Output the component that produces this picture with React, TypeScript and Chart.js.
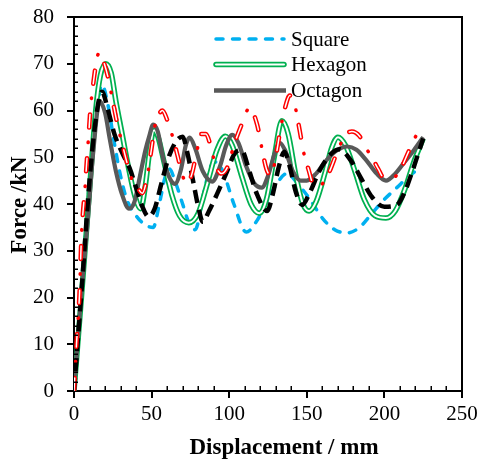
import React, { useEffect, useRef } from 'react';
import { Chart, registerables } from 'chart.js';

Chart.register(...registerables);

// ---- data (Displacement mm, Force kN) ----
const squareX = [0,5,10,14,18,22,26,30,34,40,46,51,55,58.5,61.5,65,70,74,78,84,88,92,97,103,111,118,125,131,137,145,152,160,168,176,184,192,200,208,216,224];
const squareY = [0,22,45,58,65.5,61,53,46,41,37.5,35.5,35,40,45.5,47.5,45,40,36,34.5,43,48,49,46,40,34,36.5,41,44.5,46.5,44,41,37,34.5,33.8,35,38,41,43.5,46,48];

const hexagonX = [0,5,10,14,17,20.5,24,27,31,35,39,43,46,49,51.5,54,58,63,68,74,80,86,92,97.5,102,108,114,119.5,124,129,134,138,143,147.5,151.5,156,162,166,170,175,181,187,194,201,207,213,219,225];
const hexagonY = [0,21,43,60,67.5,70,68,62,55,48,42,39,44,52,55.8,54.5,49,42,37.5,36,38,44.5,51.5,54.5,52.5,46,40,38,41,50,57.8,55,46,40,38.5,40.5,47,52,54.3,52.5,47,41,37.5,37,38.5,43,49,54];

const octagonX = [0,5,8.5,12.5,16.5,20,23,27,31,35.5,39,42.5,46,48.5,51,54,57,61,65,69,72,74.5,78,83,89,94,98,102,106,111,116,121,125,129,132.5,136,141,146,150,156,163,170,176,182,188,195,201,207,213,219,225];
const octagonY = [0,22,35,51.5,62,59.5,54,47,42,39,40.5,46,51.5,54.5,57,55.5,50.5,46,44.3,47.5,52.5,54.2,52,47,44.8,48,52.5,54.8,53,48,44.5,43.5,46,50.5,53.1,51.5,47,45,45,46.5,49.5,51.6,52.3,51.6,49.5,46.5,45,46.5,49,51.5,54.3];

const blackX = [0,5,10,14,18,22,26,31,36,40,44,48,52,56,61,66,70,73,77,80,83,87,92,98,104,108,113,118,124.5,128,132,135.5,139,143,147,152,158,165,171,178,185,192,200,208,213,218,222,225];
const blackY = [0,22,45,58,64,60,55,51,47.5,43.5,39.5,37.3,39,44,50,53.5,54.4,51,44.5,39.5,36.2,38.5,42,46.5,51,51.5,47,42,38.5,42,48,51.2,48,42.5,39.8,42.5,47,50.5,51.7,49.5,45.5,41.5,39.4,39.8,42.5,47,51,54];

const redX = [0,1.6,3.5,4.8,5.5,7,8,9.5,10.5,12.5,15,16.5,19,22,25,28,31,34,37,41,44,47,50,52,54.5,57,60,63,67,70,73,76,79,82,85,88,91,95,99,103,108,113,118,121,124,127,130,133,136,139,142,145,148,151,155,159,164,170,175,179,184,188,192,196,200,205,210,216,222,224];
const redY = [0,10,20.5,33,37,43,48,55,60,66,71.5,72.3,70.5,67,62,57,53,49,45.5,43.5,42.3,45.5,52,56.5,59,60,58,55,50,46,44.5,46.5,51,55,55,52.5,48.5,46.5,48,52.5,57,60.5,57,52,47.5,46,50,56,60.6,63.2,61.5,56.5,51,47.5,43.7,44,46.5,51.5,54.8,55.5,54.5,52,50,47.5,45.5,45.5,47.2,51.5,55.5,56];

const legendLabels = ['Square', 'Hexagon', 'Octagon'];
const xMin = 0, xMax = 250, xStep = 50, xMinorStep = 10;
const yMin = 0, yMax = 80, yStep = 10, yMinorStep = 2;
const xTitle = 'Displacement / mm';
const yTitle = 'Force /kN';

const BLUE = '#00B0F0';
const GREEN = '#00B050';
const GRAY = '#595959';
const RED = '#FF0000';
const FONT = "'Liberation Serif', 'Times New Roman', serif";

const pts = (xs: number[], ys: number[]) => xs.map((x, i) => ({ x, y: ys[i] }));

export default function App() {
  const ref = useRef<HTMLCanvasElement>(null);

  useEffect(() => {
    const canvas = ref.current;
    if (!canvas) return;

    const decor = {
      id: 'decor',
      afterDraw(chart: any) {
        const { ctx, chartArea: a, scales } = chart;
        const xs = scales.x, ys = scales.y;
        ctx.save();
        ctx.strokeStyle = '#000';
        ctx.setLineDash([]);
        // minor ticks (inside)
        ctx.lineWidth = 1.5;
        for (let v = xMin + xMinorStep; v < xMax; v += xMinorStep) {
          if (v % xStep === 0) continue;
          const px = Math.round(xs.getPixelForValue(v)) + 0.25;
          ctx.beginPath();
          ctx.moveTo(px, a.bottom);
          ctx.lineTo(px, a.bottom - 5);
          ctx.stroke();
        }
        for (let v = yMin + yMinorStep; v < yMax; v += yMinorStep) {
          if (v % yStep === 0) continue;
          const py = Math.round(ys.getPixelForValue(v)) + 0.25;
          ctx.beginPath();
          ctx.moveTo(a.left, py);
          ctx.lineTo(a.left + 4, py);
          ctx.stroke();
        }
        // top & right frame
        ctx.lineWidth = 2;
        ctx.beginPath();
        ctx.moveTo(a.left - 1, a.top);
        ctx.lineTo(a.right, a.top);
        ctx.lineTo(a.right, a.bottom + 1);
        ctx.stroke();

        // legend
        const lx0 = a.left + 140, lx1 = a.left + 210, tx = a.left + 217;
        const rows = [a.top + 22, a.top + 47.5, a.top + 73.5];
        ctx.lineCap = 'round';
        ctx.strokeStyle = BLUE; ctx.lineWidth = 3.5; ctx.setLineDash([7, 9.5]);
        ctx.beginPath(); ctx.moveTo(lx0 + 2, rows[0]); ctx.lineTo(lx1, rows[0]); ctx.stroke();
        ctx.setLineDash([]);
        ctx.strokeStyle = GREEN; ctx.lineWidth = 5.5;
        ctx.beginPath(); ctx.moveTo(lx0 + 2, rows[1]); ctx.lineTo(lx1, rows[1]); ctx.stroke();
        ctx.strokeStyle = '#fff'; ctx.lineWidth = 2;
        ctx.beginPath(); ctx.moveTo(lx0 + 2, rows[1]); ctx.lineTo(lx1, rows[1]); ctx.stroke();
        ctx.lineCap = 'butt';
        ctx.strokeStyle = GRAY; ctx.lineWidth = 4.5;
        ctx.beginPath(); ctx.moveTo(lx0, rows[2]); ctx.lineTo(lx1 + 2, rows[2]); ctx.stroke();

        ctx.fillStyle = '#000';
        ctx.font = `21px ${FONT}`;
        ctx.textAlign = 'left';
        ctx.textBaseline = 'middle';
        legendLabels.forEach((t, i) => ctx.fillText(t, tx, rows[i] + 1));

        // axis titles
        ctx.font = `bold 23px ${FONT}`;
        ctx.textAlign = 'center';
        ctx.textBaseline = 'middle';
        ctx.fillText(xTitle, (a.left + a.right) / 2 + 16, 448);
        ctx.save();
        ctx.translate(20, (a.top + a.bottom) / 2 + 1);
        ctx.rotate(-Math.PI / 2);
        ctx.fillText(yTitle, 0, 0);
        ctx.restore();
        ctx.restore();
      },
    };

    const base = {
      pointRadius: 0,
      pointHoverRadius: 0,
      fill: false,
      cubicInterpolationMode: 'monotone' as const,
    };

    const chart = new Chart(canvas, {
      type: 'line',
      data: {
        datasets: [
          { ...base, label: 'Square', data: pts(squareX, squareY), borderColor: BLUE, borderWidth: 3.5, borderDash: [7, 9.5], borderCapStyle: 'round', order: 7 },
          { ...base, label: 'Hexagon', data: pts(hexagonX, hexagonY), borderColor: GREEN, borderWidth: 5.5, order: 6 },
          { ...base, label: 'Hexagon inner', data: pts(hexagonX, hexagonY), borderColor: '#ffffff', borderWidth: 2, order: 5 },
          { ...base, label: 'Octagon', data: pts(octagonX, octagonY), borderColor: GRAY, borderWidth: 4.2, order: 4 },
          { ...base, label: 'Series 4', data: pts(blackX, blackY), borderColor: '#000000', borderWidth: 4.5, borderDash: [13, 7], order: 3 },
          { ...base, label: 'Series 5', data: pts(redX, redY), borderColor: RED, borderWidth: 4.5, borderDash: [13, 31], borderCapStyle: 'round', order: 2 },
          { ...base, label: 'Series 5 inner', data: pts(redX, redY), borderColor: '#ffffff', borderWidth: 1.5, borderDash: [13, 31], borderCapStyle: 'round', order: 1 },
          { ...base, label: 'Series 5 dots', data: pts(redX, redY), borderColor: RED, borderWidth: 3.5, borderDash: [0.5, 43.5], borderDashOffset: 15, borderCapStyle: 'round', order: 0 },
        ],
      },
      options: {
        responsive: false,
        animation: false,
        events: [],
        layout: { padding: { left: 0, top: 17, right: 20, bottom: 0 } },
        plugins: { legend: { display: false }, tooltip: { enabled: false } },
        scales: {
          x: {
            type: 'linear',
            min: xMin,
            max: xMax,
            afterFit: (s: any) => { s.height = 71; s.paddingLeft = 0; s.paddingRight = 0; s.paddingTop = 0; s.paddingBottom = 0; },
            ticks: { stepSize: xStep, color: '#000', font: { family: FONT, size: 21 }, padding: 4, maxRotation: 0, autoSkip: false },
            grid: { display: true, drawOnChartArea: false, drawTicks: true, tickLength: 7, lineWidth: 2, color: '#000' },
            border: { display: true, color: '#000', width: 2 },
            title: { display: false },
          },
          y: {
            type: 'linear',
            min: yMin,
            max: yMax,
            afterFit: (s: any) => { s.width = 74; s.paddingTop = 0; s.paddingBottom = 0; s.paddingLeft = 0; s.paddingRight = 0; },
            ticks: { stepSize: yStep, color: '#000', font: { family: FONT, size: 21 }, padding: 13 },
            grid: { display: true, drawOnChartArea: false, drawTicks: true, tickLength: 7, lineWidth: 2, color: '#000' },
            border: { display: true, color: '#000', width: 2 },
            title: { display: false },
          },
        },
      },
      plugins: [decor],
    });

    return () => chart.destroy();
  }, []);

  return (
    <canvas
      ref={ref}
      width={482}
      height={462}
      style={{ position: 'absolute', left: 0, top: 0, display: 'block', width: 482, height: 462 }}
    />
  );
}
